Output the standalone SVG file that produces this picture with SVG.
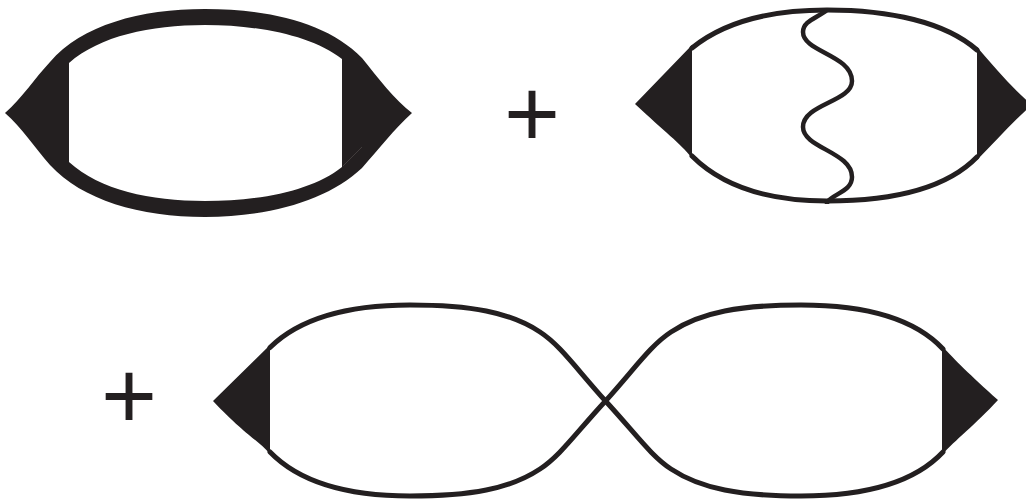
<svg xmlns="http://www.w3.org/2000/svg" width="1026" height="504" viewBox="0 0 1026 504">
<style>
.ink{fill:#231f20}
.line{fill:none;stroke:#231f20;stroke-width:5;stroke-linecap:round}
.wave{fill:none;stroke:#231f20;stroke-width:4.500}
.plus{font-family:"Liberation Sans",Arial,sans-serif;font-size:96px;fill:#231f20;text-anchor:middle}
</style>
<rect width="1026" height="504" fill="#fff"/>
<g id="diagram-1">
<path class="ink" fill-rule="evenodd" d="M5,113 C22,98 35,78 50,62 C82,25 140,9 205,9 C270,9 328,23 362,58 C378,78 395,100 412,113 C395,128 378,150 362,168 C328,200 270,217 205,217 C140,217 82,200 50,165 C35,148 22,128 5,113Z M69,63 V162 C100,190 150,201 205,201 C260,201 312,191 342,167 V59 C312,36 260,25 205,25 C150,25 100,36 69,63Z"/>
<path d="M343,166 L362,147" fill="none" stroke="#55504f" stroke-width="0.600"/>
</g>
<g id="plus-1"><text class="plus" x="532" y="147">+</text></g>
<g id="diagram-2">
<path class="line" d="M692,48 C724,22 770,10 827,10 C890,10 945,22 977,50 M692,156 C724,188 770,201 827,201 C890,201 945,190 977,157"/>
<path class="ink" d="M635,104 L692,45 V158 C680,143 665,132 635,104Z"/>
<path class="ink" d="M977,47 C995,68 1012,88 1032,105 C1012,122 995,142 977,160Z"/>
<path id="wave" class="wave" d="M827,8 V10 C817,18 803,21 803,32 C803,52 852,55 852,81 C852,102 803,104 803,127 C803,148 852,152 852,177 C852,191 835,193 827,202 V204"/>
</g>
<g id="plus-2"><text class="plus" x="129" y="429">+</text></g>
<g id="diagram-3">
<path class="line" d="M270,347.500 C300,318 350,305 410,305 C470,305 510,312 540,332 C560,345 575,367 605.500,401 C636,434 651,456 671,469 C701,489 741,496 801,496 C865,496 915,482 943,452"/>
<path class="line" d="M270,452 C300,483 350,496 410,496 C470,496 510,489 540,469 C560,456 575,434 605.500,401 C636,367 651,345 671,332 C701,312 741,305 801,305 C865,305 915,319 943,349"/>
<path class="ink" d="M213,401 L270,345 V454 C258,440 245,435 213,401Z"/>
<path class="ink" d="M942,346 C955,360 970,375 998,400 C975,425 955,440 942,455Z"/>
</g>
</svg>
